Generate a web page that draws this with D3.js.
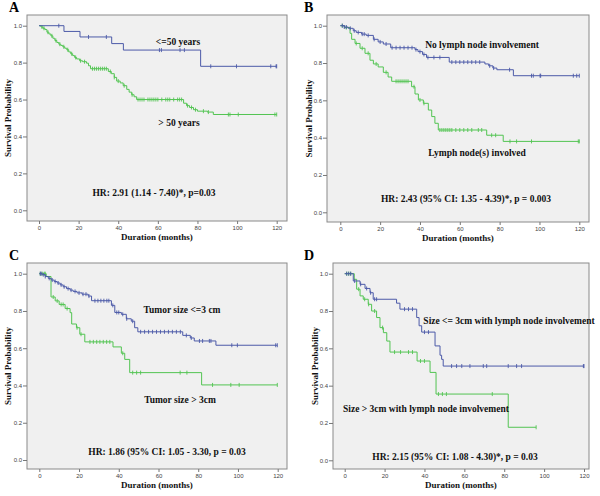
<!DOCTYPE html>
<html><head><meta charset="utf-8">
<script src="https://cdn.jsdelivr.net/npm/d3@7"></script>
<style>body{margin:0;background:#fff}svg{display:block}</style>
</head><body>
<svg id="c" width="600" height="496"></svg>
<script>
// ---------- DATA ----------
const xTicks = [0, 20, 40, 60, 80, 100, 120];
const yTicks = [0.0, 0.2, 0.4, 0.6, 0.8, 1.0];
const panelLetters = ["A", "B", "C", "D"];
const xTitle = "Duration (months)";
const yTitle = "Survival Probability";

// Panel A
const aBlueSteps = [[0,1],[12.6,0.969],[20.7,0.939],[36.7,0.903],[42.6,0.868],[81.6,0.78]];
const aBlueCensor = [10,25,34,60.8,61.8,71.2,73.4,86.7,99.7,117,119.7,120];
const aGreenSteps = [[0,1],[1,0.993],[2,0.986],[3,0.979],[4,0.965],[5,0.955],[6,0.945],[7,0.932],[8,0.92],[9,0.909],[10,0.9],[11,0.893],[12,0.886],[13,0.878],[14,0.87],[15,0.858],[16,0.848],[17,0.838],[18,0.828],[19,0.82],[20.5,0.81],[22,0.805],[24,0.797],[25,0.783],[26,0.767],[35,0.752],[36.5,0.74],[38,0.72],[39.2,0.7],[41,0.69],[42.5,0.675],[44.3,0.655],[45.5,0.64],[46.8,0.626],[48,0.615],[49.3,0.6],[73,0.58],[74.5,0.567],[76,0.557],[78,0.545],[80,0.537],[85,0.532],[88,0.519]];
const aGreenCensor = [1.5,2.5,4.5,6.5,8.5,10.5,12.5,14.5,16.5,18.5,21,23,27,28,29,30,31,32,33,34,36,38,40,43,47,50,51,52,53,55,56,57,58,59,60,62,64,65,66,68,70,71,72,75,77,79,83,85.5,95.6,96.4,100.6,119.1,120];
const aLabels = ["<=50 years", "> 50 years", "HR: 2.91 (1.14 - 7.40)*, p=0.03"];

// Panel B
const bBlueSteps = [[0,1],[2,0.993],[4,0.986],[6.5,0.973],[8,0.964],[10.7,0.955],[13,0.948],[16.6,0.927],[19,0.913],[21.6,0.902],[25.3,0.882],[37.5,0.872],[39,0.861],[41.3,0.846],[43.3,0.83],[54.7,0.805],[72.6,0.795],[74.5,0.785],[76.6,0.773],[78.6,0.764],[86.9,0.732]];
const bBlueCensor = [1,2,3,5,7,9,11,12,14,17,20,23,26,28,30,32,34,36,38,40,42,44,47,50,56,58,60,62,64,66,68,70,75,77,85,96,96.9,100.3,100.6,117,118.7,120];
const bGreenSteps = [[0,1],[2,0.99],[4.9,0.959],[5.7,0.927],[7.4,0.905],[9.9,0.879],[12.4,0.852],[14.9,0.815],[16.6,0.795],[19,0.779],[21.6,0.75],[24,0.725],[25.8,0.702],[35.8,0.673],[37.5,0.634],[39.2,0.602],[41.7,0.584],[44.2,0.548],[45.9,0.513],[47.5,0.477],[49.2,0.441],[73.5,0.413],[81.8,0.38]];
const bGreenCensor = [1,3,8,11,14,18,23,28,29,30,31,32,33,34,37,40,42,50,51,52,53,54,55,56,58,60,62,64,66,69.3,71,76,78,85.2,88.5,96,119.5,120];
const bLabels = ["No lymph node involvement", "Lymph node(s) involved", "HR: 2.43 (95% CI: 1.35 - 4.39)*, p = 0.003"];

// Panel C
const cBlueSteps = [[0,1],[1.5,0.995],[3,0.985],[4.5,0.975],[6,0.966],[7.5,0.958],[9,0.95],[10.5,0.94],[12,0.93],[13.7,0.92],[15.5,0.912],[17,0.905],[19,0.897],[21.5,0.89],[24.6,0.88],[26.3,0.855],[36.3,0.83],[38,0.792],[41.3,0.782],[43.8,0.758],[46.3,0.745],[48,0.71],[49.6,0.688],[72.2,0.669],[76,0.655],[78,0.639],[88.9,0.616]];
const cBlueCensor = [0.5,1,2,3,5,6.5,8,9.5,11,12.5,14.5,16,18,20,22,23.5,25,28,29.5,31,32.5,34,35,37,39,40,42,44,47,51,53,55,57,59,61,63,65,67,69,71,74,76.5,80.6,82.2,85.6,86.4,96.9,99.7,119,119.8];
const cGreenSteps = [[0,1],[3.5,0.985],[5.9,0.875],[8,0.854],[10,0.835],[13,0.813],[15.5,0.791],[16.3,0.73],[18.7,0.71],[20.4,0.675],[22.9,0.634],[37.1,0.607],[41.3,0.573],[43,0.54],[45.5,0.469],[81.7,0.403]];
const cGreenCensor = [0.5,1.5,2.5,3,7,9,11,12,14,19,21,25.5,27.2,28.9,30.5,32.2,33.9,35.5,42,47,49,51,70.9,74.3,87.2,96.4,100.6,119.8];
const cLabels = ["Tumor size <=3 cm", "Tumor size > 3cm", "HR: 1.86 (95% CI: 1.05 - 3.30, p = 0.03"];

// Panel D
const dBlueSteps = [[0,1],[4.3,0.961],[7.7,0.943],[10.2,0.921],[12.7,0.898],[14.3,0.863],[26,0.842],[27.7,0.81],[36.1,0.765],[37.3,0.721],[38.6,0.687],[45.3,0.613],[47.8,0.563],[48.6,0.541],[49.4,0.505]];
const dBlueCensor = [1,2,3,5,8,11,13,15,16,30,32,34,40,42,53.6,56.1,58.7,62.8,69.5,71.2,82,86.2,88.7,119.7,120];
const dGreenSteps = [[0,1],[4.8,0.97],[6,0.917],[7.7,0.881],[9.3,0.863],[11.8,0.836],[13.5,0.8],[16,0.765],[17.7,0.711],[19.4,0.684],[21.1,0.639],[22.7,0.58],[36.3,0.532],[42.8,0.471],[45.8,0.355],[82,0.177]];
const dGreenCensor = [1,2,3,7,10,12,15,19,25,28,32,34,38,40,47,49,51,74,96];
const dLabels = ["Size <= 3cm with lymph node involvement", "Size > 3cm with lymph node involvement", "HR: 2.15 (95% CI: 1.08 - 4.30)*, p = 0.03"];

// ---------- LAYOUT ----------
const BLUE = "#4c5aa8", GREEN = "#52c452";
const layouts = [
  {box:[27,15,287,221], xr:[39,276.7], yr:[210.3,25.7], letter:[9,12], ytx:7, lab:[[178,45],[179,126],[154,196]]},
  {box:[327,15,589,222], xr:[340.3,579.3], yr:[212.3,25.7], letter:[304,12], ytx:308, lab:[[482,48],[477,156],[466,202]]},
  {box:[27,263,287,469], xr:[39.3,277.7], yr:[460,273.7], letter:[9,260], ytx:7, lab:[[182,313],[180,403],[167,455]]},
  {box:[333,263,589,469], xr:[344.7,584], yr:[460.3,273.7], letter:[304,260], ytx:314, lab:[[509,324],[426,412],[455,460]]}
];
const panels = [
  {blue:[aBlueSteps,aBlueCensor], green:[aGreenSteps,aGreenCensor], labels:aLabels},
  {blue:[bBlueSteps,bBlueCensor], green:[bGreenSteps,bGreenCensor], labels:bLabels},
  {blue:[cBlueSteps,cBlueCensor], green:[cGreenSteps,cGreenCensor], labels:cLabels},
  {blue:[dBlueSteps,dBlueCensor], green:[dGreenSteps,dGreenCensor], labels:dLabels}
];

const svg = d3.select("#c");
const SERIF = "'Liberation Serif','Times New Roman',serif";
const SANS = "'Liberation Sans',Arial,sans-serif";

panels.forEach((p, i) => {
  const L = layouts[i];
  const [bx0, by0, bx1, by1] = L.box;
  const g = svg.append("g");
  const x = d3.scaleLinear().domain([0,120]).range(L.xr);
  const y = d3.scaleLinear().domain([0,1]).range(L.yr);

  g.append("rect").attr("x", bx0).attr("y", by0).attr("width", bx1-bx0).attr("height", by1-by0)
    .attr("fill", "#f0f0f0").attr("stroke", "#8a8a8a").attr("stroke-width", 1);

  const ya = g.append("g").attr("transform", `translate(${bx0},0)`)
    .call(d3.axisLeft(y).tickValues(yTicks).tickFormat(d3.format(".1f")).tickSize(4).tickPadding(1));
  const xa = g.append("g").attr("transform", `translate(0,${by1})`)
    .call(d3.axisBottom(x).tickValues(xTicks).tickSize(3).tickPadding(1.5));
  [ya, xa].forEach(a => {
    a.select(".domain").remove();
    a.selectAll("line").attr("stroke", "#777");
    a.selectAll("text").attr("font-family", SANS).attr("font-size", 6).attr("fill", "#444");
  });

  [[p.green, GREEN], [p.blue, BLUE]].forEach(([[steps, cens], col]) => {
    const end = Math.max(steps[steps.length-1][0], d3.max(cens));
    const pts = steps.concat([[end, steps[steps.length-1][1]]]);
    g.append("path").datum(pts)
      .attr("d", d3.line().x(d => x(d[0])).y(d => y(d[1])).curve(d3.curveStepAfter))
      .attr("fill", "none").attr("stroke", col).attr("stroke-width", 1);
    const bis = d3.bisector(d => d[0]).right;
    g.selectAll(null).data(cens).enter().append("line")
      .attr("x1", d => x(d)).attr("x2", d => x(d))
      .attr("y1", d => y(steps[bis(steps, d) - 1][1]) - 2)
      .attr("y2", d => y(steps[bis(steps, d) - 1][1]) + 2)
      .attr("stroke", col).attr("stroke-width", 0.9);
  });

  p.labels.forEach((t, k) => {
    g.append("text").attr("x", L.lab[k][0]).attr("y", L.lab[k][1]).attr("text-anchor", "middle")
      .attr("font-family", SERIF).attr("font-weight", "bold").attr("font-size", 9.5).attr("fill", "#111").text(t);
  });

  g.append("text").attr("x", (bx0+bx1)/2).attr("y", by1 + 18.5).attr("text-anchor", "middle")
    .attr("font-family", SERIF).attr("font-weight", "bold").attr("font-size", 9).attr("fill", "#111").text(xTitle);
  g.append("text").attr("transform", `translate(${L.ytx + 3.5},${(by0+by1)/2}) rotate(-90)`).attr("text-anchor", "middle")
    .attr("font-family", SERIF).attr("font-weight", "bold").attr("font-size", 9).attr("fill", "#111").text(yTitle);
  g.append("text").attr("x", L.letter[0]).attr("y", L.letter[1])
    .attr("font-family", SERIF).attr("font-weight", "bold").attr("font-size", 14).attr("fill", "#000").text(panelLetters[i]);
});
</script>
</body></html>
